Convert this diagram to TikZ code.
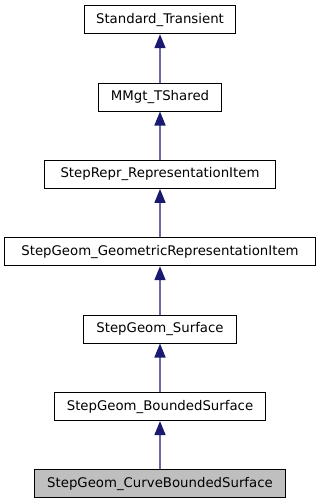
\documentclass[tikz,border=0pt]{standalone}
\usepackage{fontspec}
\setmainfont{DejaVu Sans}
\usetikzlibrary{arrows.meta}
\definecolor{edgeblue}{HTML}{191970}
\definecolor{edgeline}{HTML}{6A6AA8}
\definecolor{curfill}{HTML}{BFBFBF}
\tikzset{
  cls/.style={draw=black, line width=1pt, fill=white, minimum height=28pt,
    inner sep=0pt, font=\fontsize{13.3}{15}\selectfont},
  current/.style={cls, fill=curfill},
  inherit/.style={draw=edgeline, line width=1.6pt,
    -{Triangle[length=14pt,width=11pt,fill=edgeblue,color=edgeblue]}}
}
\begin{document}
\begin{tikzpicture}[x=1pt,y=-1pt]
\useasboundingbox (0,0) rectangle (320,504);
\node[cls, minimum width=151pt]   (st)  at (160,19.7)  {Standard\_Transient};
\node[cls, minimum width=123pt]   (mm)  at (160,97.0)  {MMgt\_TShared};
\node[cls, minimum width=231pt]   (ri)  at (160,174.4) {StepRepr\_RepresentationItem};
\node[cls, minimum width=311.3pt] (gri) at (160,251.7) {StepGeom\_GeometricRepresentationItem};
\node[cls, minimum width=153.3pt] (sf)  at (160,329.0) {StepGeom\_Surface};
\node[cls, minimum width=211pt]   (bs)  at (160,406.6) {StepGeom\_BoundedSurface};
\node[current, minimum width=251pt] (cbs) at (160,483.7) {StepGeom\_CurveBoundedSurface};
\draw[inherit] (mm.north)  -- (st.south);
\draw[inherit] (ri.north)  -- (mm.south);
\draw[inherit] (gri.north) -- (ri.south);
\draw[inherit] (sf.north)  -- (gri.south);
\draw[inherit] (bs.north)  -- (sf.south);
\draw[inherit] (cbs.north) -- (bs.south);
\end{tikzpicture}
\end{document}
